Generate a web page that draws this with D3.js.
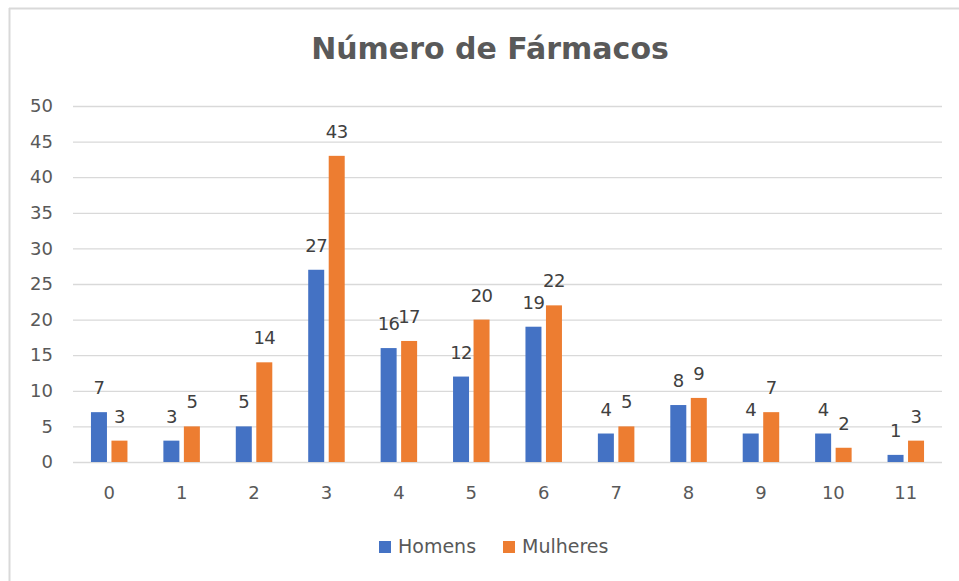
<!DOCTYPE html>
<html>
<head>
<meta charset="utf-8">
<script src="https://cdn.jsdelivr.net/npm/d3@7"></script>
<style>
  html, body { margin: 0; padding: 0; background: #fff; }
  svg { display: block; }
</style>
</head>
<body>
<svg id="chart"></svg>
<script>
/* Número de Fármacos — grouped vertical bars, Homens vs Mulheres */

const categories = ['0', '1', '2', '3', '4', '5', '6', '7', '8', '9', '10', '11'];
const homens     = [7, 3, 5, 27, 16, 12, 19, 4, 8, 4, 4, 1];
const mulheres   = [3, 5, 14, 43, 17, 20, 22, 5, 9, 7, 2, 3];
const yTicks     = [0, 5, 10, 15, 20, 25, 30, 35, 40, 45, 50];
const seriesNames = ['Homens', 'Mulheres'];

const COLOR_H = '#4472C4';
const COLOR_M = '#ED7D31';
const FONT    = '"DejaVu Sans", sans-serif';

const W = 959, H = 581;
const margin = { top: 106, right: 17, bottom: 119, left: 73 };
const iW = W - margin.left - margin.right;
const iH = H - margin.top - margin.bottom;

const svg = d3.select('#chart')
  .attr('width', W)
  .attr('height', H)
  .attr('viewBox', `0 0 ${W} ${H}`);

/* ── Frame (left + top edge only, as cropped) ── */
svg.append('line')
  .attr('x1', 9.5).attr('x2', 9.5).attr('y1', 8).attr('y2', H)
  .attr('stroke', '#D9D9D9').attr('stroke-width', 2);
svg.append('line')
  .attr('x1', 9).attr('x2', W).attr('y1', 8.5).attr('y2', 8.5)
  .attr('stroke', '#D9D9D9').attr('stroke-width', 2);

/* ── Title ── */
svg.append('text')
  .attr('x', 490)
  .attr('y', 59)
  .attr('text-anchor', 'middle')
  .attr('fill', '#595959')
  .attr('font-size', 30)
  .attr('font-weight', 'bold')
  .attr('font-family', FONT)
  .text('Número de Fármacos');

const g = svg.append('g')
  .attr('transform', `translate(${margin.left},${margin.top})`);

/* ── Scales ── */
const x0 = d3.scaleBand()
  .domain(categories)
  .range([0, iW]);

const BAR = 16, GAP = 4.5;
const x1 = d3.scaleOrdinal()
  .domain(seriesNames)
  .range([-(BAR + GAP / 2), GAP / 2]);

const y = d3.scaleLinear()
  .domain([0, 50])
  .range([iH, 0]);

/* ── Grid + y labels ── */
g.append('g')
  .call(d3.axisLeft(y).tickValues(yTicks).tickSize(-iW).tickPadding(20))
  .call(ax => ax.select('.domain').remove())
  .call(ax => ax.selectAll('.tick line')
    .attr('stroke', '#D9D9D9')
    .attr('stroke-width', 1.3))
  .call(ax => ax.selectAll('.tick text')
    .attr('fill', '#595959')
    .attr('font-size', 18)
    .attr('font-family', FONT));

/* ── x labels ── */
g.append('g')
  .attr('transform', `translate(0,${iH})`)
  .call(d3.axisBottom(x0).tickSize(0).tickPadding(24))
  .call(ax => ax.select('.domain').remove())
  .call(ax => ax.selectAll('.tick text')
    .attr('fill', '#595959')
    .attr('font-size', 18)
    .attr('font-family', FONT));

/* ── Bars + data labels ── */
const rows = categories.map((c, i) => ({
  cat: c,
  vals: [
    { key: 'Homens', v: homens[i], color: COLOR_H },
    { key: 'Mulheres', v: mulheres[i], color: COLOR_M },
  ],
}));

const grp = g.selectAll('.grp')
  .data(rows)
  .join('g')
  .attr('class', 'grp')
  .attr('transform', d => `translate(${x0(d.cat) + x0.bandwidth() / 2},0)`);

grp.selectAll('rect')
  .data(d => d.vals)
  .join('rect')
  .attr('x', d => x1(d.key))
  .attr('y', d => y(d.v))
  .attr('width', BAR)
  .attr('height', d => iH - y(d.v))
  .attr('fill', d => d.color);

grp.selectAll('text.lbl')
  .data(d => d.vals)
  .join('text')
  .attr('class', 'lbl')
  .attr('x', d => x1(d.key) + BAR / 2)
  .attr('y', d => y(d.v) - 18)
  .attr('text-anchor', 'middle')
  .attr('fill', '#404040')
  .attr('font-size', 18)
  .attr('letter-spacing', -0.6)
  .attr('font-family', FONT)
  .text(d => d.v);

/* ── Legend ── */
const legend = svg.append('g');
const legendItems = [
  { name: seriesNames[0], color: COLOR_H, x: 379 },
  { name: seriesNames[1], color: COLOR_M, x: 503 },
];
legendItems.forEach(it => {
  legend.append('rect')
    .attr('x', it.x).attr('y', 541)
    .attr('width', 12).attr('height', 12)
    .attr('fill', it.color);
  legend.append('text')
    .attr('x', it.x + 19)
    .attr('y', 553)
    .attr('fill', '#595959')
    .attr('font-size', 19)
    .attr('font-family', FONT)
    .text(it.name);
});
</script>
</body>
</html>
